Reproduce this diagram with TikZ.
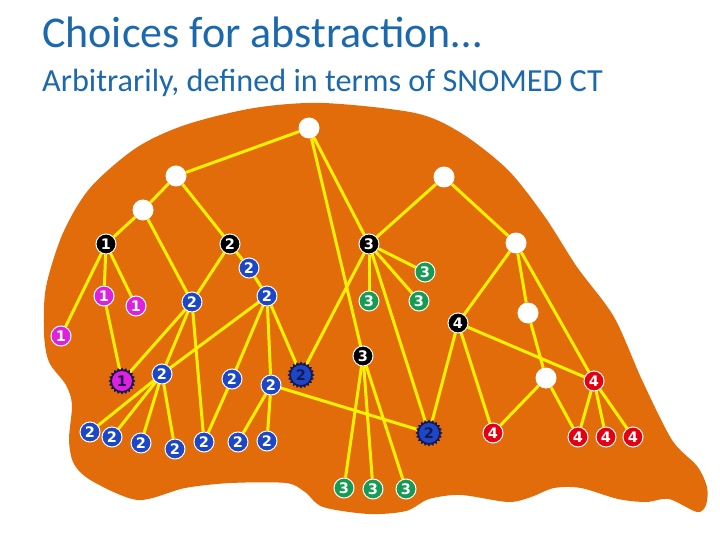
\documentclass[tikz,border=0pt]{standalone}
\usepackage{fontspec}
\setmainfont{Carlito}
\newfontfamily\digitfont{DejaVu Sans}
\usetikzlibrary{shapes.geometric}

\definecolor{blobcol}{RGB}{227,108,10}
\definecolor{titleblue}{RGB}{28,104,173}
\definecolor{magcol}{RGB}{221,34,221}
\definecolor{bluecol}{RGB}{28,72,200}
\definecolor{greencol}{RGB}{22,155,85}
\definecolor{redcol}{RGB}{228,0,18}
\definecolor{navycol}{RGB}{22,24,80}

\pgfdeclarelayer{blob}
\pgfdeclarelayer{links}
\pgfsetlayers{blob,links,main}

\tikzset{
    knot/.style={circle, fill=white, minimum size=21pt, inner sep=0pt},
    dot/.style={circle, inner sep=0pt, minimum size=20pt, draw=white, line width=1pt,
        text=white, font=\digitfont\bfseries\fontsize{14.5}{14.5}\selectfont},
    head/.style={dot, fill=black},
    grpone/.style={dot, fill=magcol},
    grptwo/.style={dot, fill=bluecol},
    grpthree/.style={dot, fill=greencol},
    grpfour/.style={dot, fill=redcol},
    spiky/.style={star, star points=20, star point ratio=1.2, fill=navycol,
        minimum size=27pt, inner sep=0pt},
    hidden/.style={text=navycol, draw=none},
    link/.style={yellow, line width=3pt},
}

\begin{document}
\begin{tikzpicture}[x=1pt, y=-1pt]
    \useasboundingbox (0,0) rectangle (720,540);

    % titles
    \node[anchor=base west, text=titleblue, inner sep=0pt, font=\fontsize{44}{44}\selectfont]
        (title) at (42,48) {Choices for abstraction…};
    \node[anchor=base west, text=titleblue, inner sep=0pt, font=\fontsize{32.2}{32}\selectfont]
        (subtitle) at (42,92) {Arbitrarily, defined in terms of SNOMED CT};

    % the orange region
    \begin{pgfonlayer}{blob}
        \fill[blobcol] plot[smooth cycle, tension=0.5] coordinates {
            (323,103) (415,113) (461,133) (508,170) (545,217) (577,267) (614,317)
            (642,380) (672,440) (697,466) (707,487) (706,505) (697,512) (669,499)
            (646,502) (618,499) (581,488) (554,488) (531,497) (508,502) (461,495)
            (429,499) (406,511) (369,514) (323,507) (305,492) (286,483) (231,483)
            (185,488) (138,500) (92,481) (74,464) (69,440) (72,405) (66,385)
            (49,362) (44,333) (46,287) (63,233) (90,188) (136,148) (185,125) (254,108)};
    \end{pgfonlayer}

    % unlabelled concepts
    \node[knot] (w0) at (309,128) {};
    \node[knot] (w1) at (176,176) {};
    \node[knot] (w2) at (143,210) {};
    \node[knot] (w3) at (444,177) {};
    \node[knot] (w4) at (516,243) {};
    \node[knot] (w5) at (528,313) {};
    \node[knot] (w6) at (546,378) {};

    % chosen abstractions
    \node[head] (k1) at (106,244) {1};
    \node[head] (k2) at (230,244) {2};
    \node[head] (k3) at (369,244) {3};
    \node[head] (k4) at (458,323) {4};
    \node[head] (k5) at (363,356) {3};

    % group 1
    \node[grpone] (p1) at (104,296) {1};
    \node[grpone] (p2) at (136,306) {1};
    \node[grpone] (p3) at (61,336) {1};
    \node[spiky] (p4s) at (122,381) {};
    \node[grpone, hidden] (p4) at (p4s) {1};

    % group 2
    \node[grptwo] (b1) at (249,268) {2};
    \node[grptwo] (b2) at (192,302) {2};
    \node[grptwo] (b3) at (267,296) {2};
    \node[spiky] (b4s) at (301,375) {};
    \node[grptwo, hidden] (b4) at (b4s) {2};
    \node[grptwo] (b5) at (162,374) {2};
    \node[grptwo] (b6) at (232,379) {2};
    \node[grptwo] (b7) at (271,385) {2};
    \node[grptwo] (b8) at (90,432) {2};
    \node[grptwo] (b9) at (112,437) {2};
    \node[grptwo] (b10) at (141,443) {2};
    \node[grptwo] (b11) at (175,449) {2};
    \node[grptwo] (b12) at (204,442) {2};
    \node[grptwo] (b13) at (238,442) {2};
    \node[grptwo] (b14) at (267,441) {2};
    \node[spiky] (b15s) at (429,433) {};
    \node[grptwo, hidden] (b15) at (b15s) {2};

    % group 3
    \node[grpthree] (g1) at (425,272) {3};
    \node[grpthree] (g2) at (369,301) {3};
    \node[grpthree] (g3) at (419,301) {3};
    \node[grpthree] (g4) at (344,488) {3};
    \node[grpthree] (g5) at (373,489) {3};
    \node[grpthree] (g6) at (406,489) {3};

    % group 4
    \node[grpfour] (r1) at (594,381) {4};
    \node[grpfour] (r2) at (493,433) {4};
    \node[grpfour] (r3) at (578,437) {4};
    \node[grpfour] (r4) at (606,437) {4};
    \node[grpfour] (r5) at (633,437) {4};

    % is-a links
    \begin{pgfonlayer}{links}
        \foreach \a/\b in {w0/w1, w0/k3, w0/k5, w1/w2, w1/k2, w2/k1, w2/b2,
                k1/p3, k1/p1, k1/p2, p1/p4, k2/b2, k2/b1, b1/b3,
                b2/p4, b2/b5, b2/b12, b3/b5, b3/b6, b3/b7, b3/b4,
                k3/b4, k3/g1, k3/g2, k3/g3, k3/b15, w3/k3, w3/w4,
                w4/k4, w4/w5, w4/r1, w5/w6, k4/r1, k4/r2, k4/b15,
                w6/r2, w6/r3, r1/r3, r1/r4, r1/r5,
                b5/b8, b5/b9, b5/b10, b5/b11, b6/b12, b7/b13, b7/b14, b7/b15,
                k5/g4, k5/g5, k5/g6}
            \draw[link] (\a) -- (\b);
    \end{pgfonlayer}
\end{tikzpicture}
\end{document}
